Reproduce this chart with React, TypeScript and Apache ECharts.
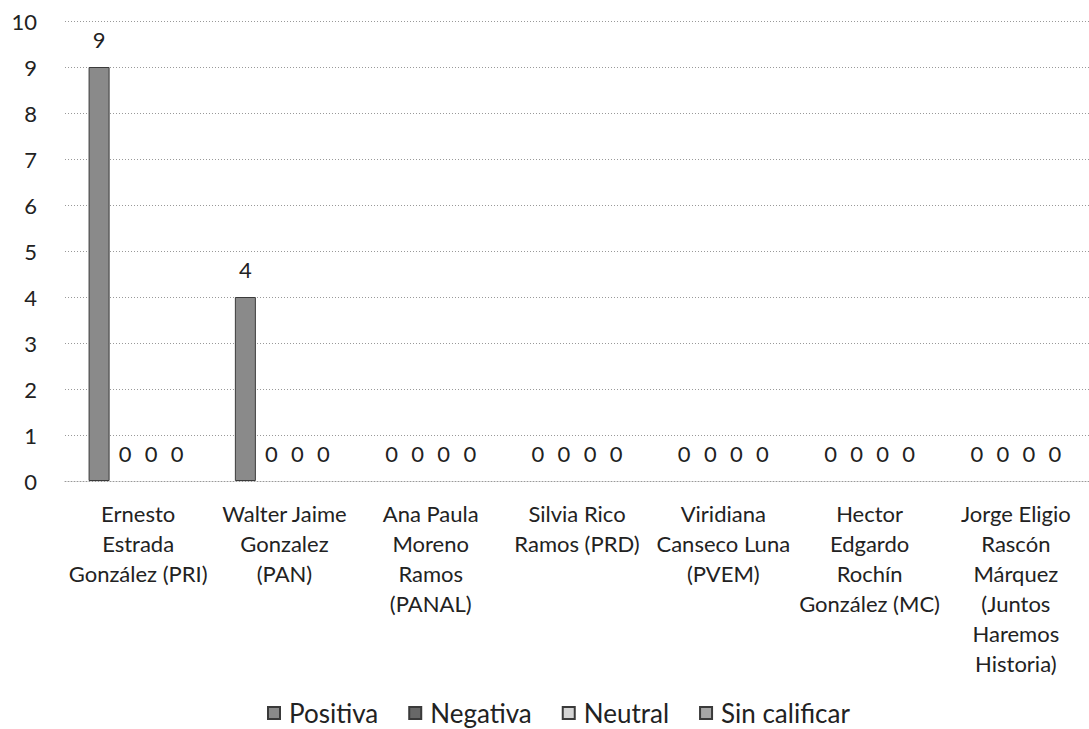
import React, { useEffect, useRef } from "react";
import * as echarts from "echarts";

const categories = [
  "Ernesto\nEstrada\nGonzález (PRI)",
  "Walter Jaime\nGonzalez\n(PAN)",
  "Ana Paula\nMoreno\nRamos\n(PANAL)",
  "Silvia Rico\nRamos (PRD)",
  "Viridiana\nCanseco Luna\n(PVEM)",
  "Hector\nEdgardo\nRochín\nGonzález (MC)",
  "Jorge Eligio\nRascón\nMárquez\n(Juntos\nHaremos\nHistoria)",
];
const seriesNames = ["Positiva", "Negativa", "Neutral", "Sin calificar"];
const positiva = [9, 4, 0, 0, 0, 0, 0];
const negativa = [0, 0, 0, 0, 0, 0, 0];
const neutral = [0, 0, 0, 0, 0, 0, 0];
const sinCalificar = [0, 0, 0, 0, 0, 0, 0];
const yTicks = [0, 1, 2, 3, 4, 5, 6, 7, 8, 9, 10];

const colors = ["#8a8a8a", "#686868", "#d4d4d4", "#a6a6a6"];
const FONT = "Lato";

export default function App() {
  const ref = useRef<HTMLDivElement>(null);
  useEffect(() => {
    if (!ref.current) return;
    const chart = echarts.init(ref.current, undefined, { renderer: "svg" });
    const values = [positiva, negativa, neutral, sinCalificar];
    chart.setOption({
      animation: false,
      textStyle: { fontFamily: FONT },
      grid: { left: 65, right: -9, top: 21, bottom: 248 },
      legend: {
        data: seriesNames,
        top: 694,
        left: 262,
        itemWidth: 12,
        itemHeight: 12,
        itemGap: 30,
        icon: "rect",
        textStyle: { fontFamily: FONT, fontSize: 26, lineHeight: 28, color: "#222", padding: [0, 0, 0, 4] },
      },
      xAxis: {
        type: "category",
        data: categories,
        axisTick: { show: false },
        axisLine: { show: true, lineStyle: { color: "#999", type: [1, 2], width: 1 } },
        axisLabel: {
          interval: 0,
          margin: 17,
          fontFamily: FONT,
          fontSize: 22,
          lineHeight: 30,
          color: "#222",
        },
      },
      yAxis: {
        type: "value",
        min: yTicks[0],
        max: yTicks[yTicks.length - 1],
        interval: 1,
        axisLine: { show: false },
        axisTick: { show: false },
        splitLine: { show: true, lineStyle: { color: "#999", type: [1, 2], width: 1 } },
        axisLabel: { margin: 28, fontFamily: FONT, fontSize: 22, color: "#222" },
      },
      series: seriesNames.map((name, i) => ({
        name,
        type: "bar",
        data: values[i].map((v) => ({
          value: v,
          itemStyle: v === 0 ? { borderWidth: 0 } : undefined,
        })),
        barWidth: 21,
        barGap: "24%",
        itemStyle: { color: colors[i], borderColor: "#3a3a3a", borderWidth: 1 },
        label: {
          show: true,
          position: "top",
          distance: 17,
          fontFamily: FONT,
          fontSize: 22,
          color: "#222",
        },
      })),
    });
    return () => chart.dispose();
  }, []);
  return (
    <div
      ref={ref}
      style={{ position: "fixed", left: 0, top: 0, width: 1089, height: 729, background: "#fff" }}
    />
  );
}
